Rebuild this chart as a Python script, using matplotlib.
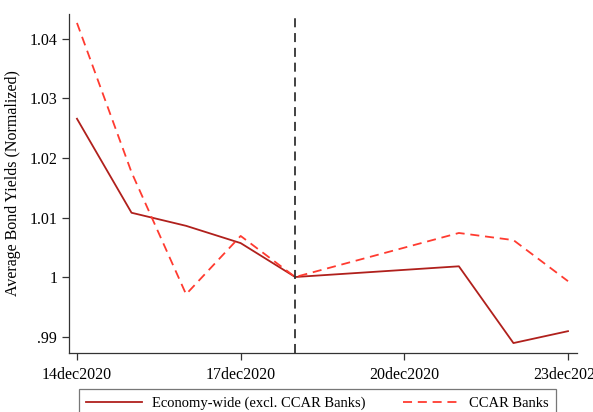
import pandas as pd
import matplotlib
matplotlib.use("Agg")
import matplotlib.pyplot as plt
import matplotlib.dates as mdates

# data (trading days only)
dates = ["2020-12-14", "2020-12-15", "2020-12-16", "2020-12-17",
         "2020-12-18", "2020-12-21", "2020-12-22", "2020-12-23"]
economy_wide = [1.0266, 1.0108, 1.0086, 1.0057, 1.0000, 1.0018, 0.9889, 0.9909]
ccar_banks = [1.0427, 1.0176, 0.9971, 1.0069, 1.0000, 1.0074, 1.0062, 0.9993]
event_date = "2020-12-18"
tick_dates = ["2020-12-14", "2020-12-17", "2020-12-20", "2020-12-23"]
tick_labels = ["14dec2020", "17dec2020", "20dec2020", "23dec2020"]
y_ticks = [0.99, 1.0, 1.01, 1.02, 1.03, 1.04]
y_labels = [".99", "1", "1.01", "1.02", "1.03", "1.04"]

plt.rcParams['font.family'] = ['Liberation Serif', 'DejaVu Serif']

x = pd.to_datetime(dates)

fig = plt.figure(figsize=(5.93, 4.12), dpi=100)
ax = fig.add_axes([69 / 593, 1 - 353 / 412, (577 - 69) / 593, (353 - 14) / 412])

ax.plot(x, economy_wide, color="#b0201c", lw=1.3,
        label="Economy-wide (excl. CCAR Banks)")
ax.plot(x, ccar_banks, color="#ff3b30", lw=1.3, dashes=(5, 3.2),
        label="CCAR Banks")
ax.axvline(pd.Timestamp(event_date), color="#333333", lw=1.3, dashes=(5, 3.2))

x0 = pd.Timestamp("2020-12-14")
ax.set_xlim(mdates.date2num(x0) - 0.146, mdates.date2num(x0) + 9.165)
ax.set_ylim(0.98723, 1.0442)

ax.set_xticks(pd.to_datetime(tick_dates))
ax.set_xticklabels(tick_labels)
ax.set_yticks(y_ticks)
ax.set_yticklabels(y_labels)
ax.tick_params(labelsize=11.5, length=5, width=0.9, color="#333333")
ax.tick_params(axis='x', pad=5)

for side in ["top", "right"]:
    ax.spines[side].set_visible(False)
for side in ["left", "bottom"]:
    ax.spines[side].set_color("#333333")
    ax.spines[side].set_linewidth(0.9)

ax.set_ylabel("Average Bond Yields (Normalized)", fontsize=11.5, labelpad=6)

leg = fig.legend(loc="upper left", bbox_to_anchor=(79 / 593, 1 - 389 / 412),
                 ncol=2, frameon=True, fancybox=False, fontsize=10.5,
                 handlelength=3.8, columnspacing=2.6, borderpad=0.5,
                 handletextpad=0.7, borderaxespad=0)
leg.get_frame().set_edgecolor("#555555")
leg.get_frame().set_linewidth(0.9)

fig.savefig("out.png", dpi=100)
